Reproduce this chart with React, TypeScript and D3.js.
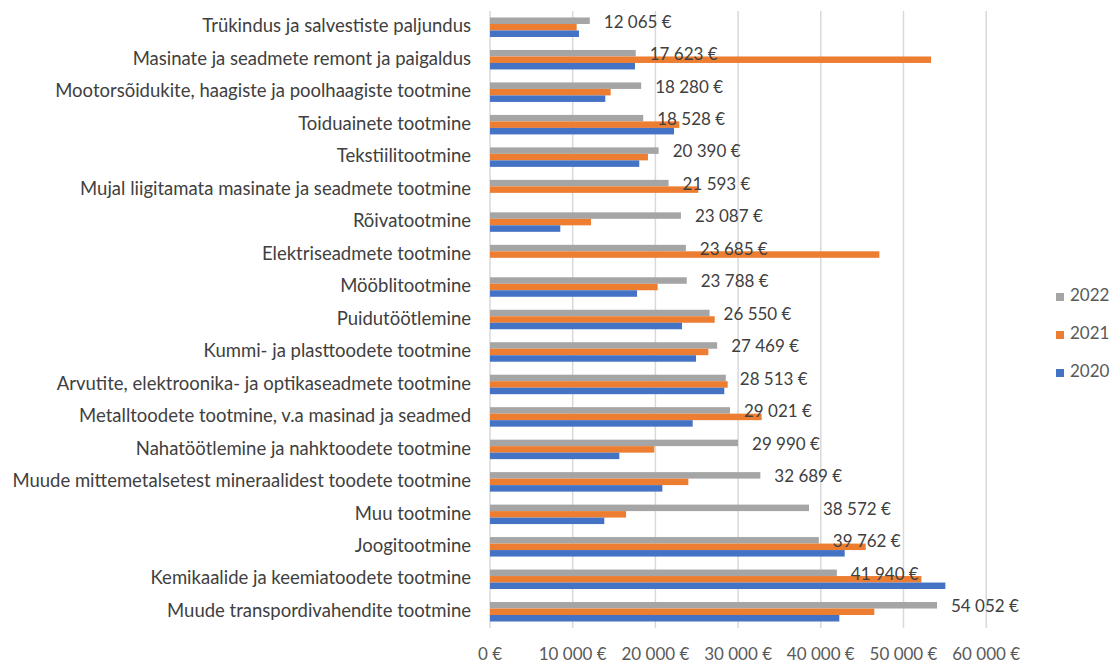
import React from "react";
import * as d3 from "d3";

const categories = [
  "Trükindus ja salvestiste paljundus",
  "Masinate ja seadmete remont ja paigaldus",
  "Mootorsõidukite, haagiste ja poolhaagiste tootmine",
  "Toiduainete tootmine",
  "Tekstiilitootmine",
  "Mujal liigitamata masinate ja seadmete tootmine",
  "Rõivatootmine",
  "Elektriseadmete tootmine",
  "Mööblitootmine",
  "Puidutöötlemine",
  "Kummi- ja plasttoodete tootmine",
  "Arvutite, elektroonika- ja optikaseadmete tootmine",
  "Metalltoodete tootmine, v.a masinad ja seadmed",
  "Nahatöötlemine ja nahktoodete tootmine",
  "Muude mittemetalsetest mineraalidest toodete tootmine",
  "Muu tootmine",
  "Joogitootmine",
  "Kemikaalide ja keemiatoodete tootmine",
  "Muude transpordivahendite tootmine",
];

const values2022 = [12065, 17623, 18280, 18528, 20390, 21593, 23087, 23685, 23788, 26550, 27469, 28513, 29021, 29990, 32689, 38572, 39762, 41940, 54052];
const values2021 = [10480, 53330, 14590, 22890, 19100, 25190, 12210, 47080, 20270, 27170, 26400, 28740, 32850, 19870, 23980, 16450, 45430, 52160, 46470];
const values2020 = [10760, 17530, 13940, 22250, 18050, 0, 8500, 0, 17780, 23220, 24910, 28330, 24510, 15640, 20840, 13820, 42890, 55060, 42240];

const xTicks = [0, 10000, 20000, 30000, 40000, 50000, 60000];
const seriesNames = ["2022", "2021", "2020"];
const seriesColors = ["#A5A5A5", "#ED7D31", "#4472C4"];

const fmt = (v: number) => d3.format(",")(v).replace(/,/g, " ") + " €";

export default function App() {
  const W = 1112, H = 666;
  const left = 490, right = 490 + 82.7 * 6, top = 11, bottom = 628;
  const x = d3.scaleLinear().domain([0, 60000]).range([left, right]);
  const y = d3.scaleBand<string>().domain(categories).range([top, bottom]).paddingInner(0.4).paddingOuter(0.2);
  const inner = d3.scaleBand<string>().domain(seriesNames).range([0, y.bandwidth()]);
  const series = [values2022, values2021, values2020];
  const font = "Lato, 'Open Sans', sans-serif";

  return (
    <svg width={W} height={H} style={{ position: "absolute", left: 0, top: 0, background: "#fff" }} fontFamily={font}>
      <rect x={0} y={0} width={W} height={H} fill="#fff" />
      {xTicks.map((t) => (
        <line key={t} x1={x(t)} x2={x(t)} y1={top} y2={bottom} stroke="#D9D9D9" strokeWidth={1.5} />
      ))}
      {categories.map((c, i) => (
        <g key={c}>
          {series.map((vals, s) => (
            <rect
              key={s}
              x={x(0)}
              y={(y(c) as number) + (inner(seriesNames[s]) as number)}
              width={Math.max(0, x(vals[i]) - x(0))}
              height={inner.bandwidth()}
              fill={seriesColors[s]}
            />
          ))}
          <text
            x={x(values2022[i]) + 14}
            y={(y(c) as number) + inner.bandwidth() / 2 + 2.5}
            dominantBaseline="middle"
            fontSize={17}
            fill="#404040"
          >
            {fmt(values2022[i])}
          </text>
          <text
            x={471}
            y={(y(c) as number) + y.bandwidth() / 2 + 0.5}
            dominantBaseline="middle"
            textAnchor="end"
            fontSize={18.5}
            fill="#404040"
          >
            {c}
          </text>
        </g>
      ))}
      {xTicks.map((t) => (
        <text key={"l" + t} x={x(t)} y={656} textAnchor="middle" dominantBaseline="middle" fontSize={17} fill="#595959">
          {fmt(t)}
        </text>
      ))}
      {seriesNames.map((n, s) => (
        <g key={n} transform={`translate(1056, ${297 + s * 38})`}>
          <rect x={0} y={-4} width={8} height={8} fill={seriesColors[s]} />
          <text x={14} y={0} dominantBaseline="middle" fontSize={17} fill="#595959">{n}</text>
        </g>
      ))}
    </svg>
  );
}
